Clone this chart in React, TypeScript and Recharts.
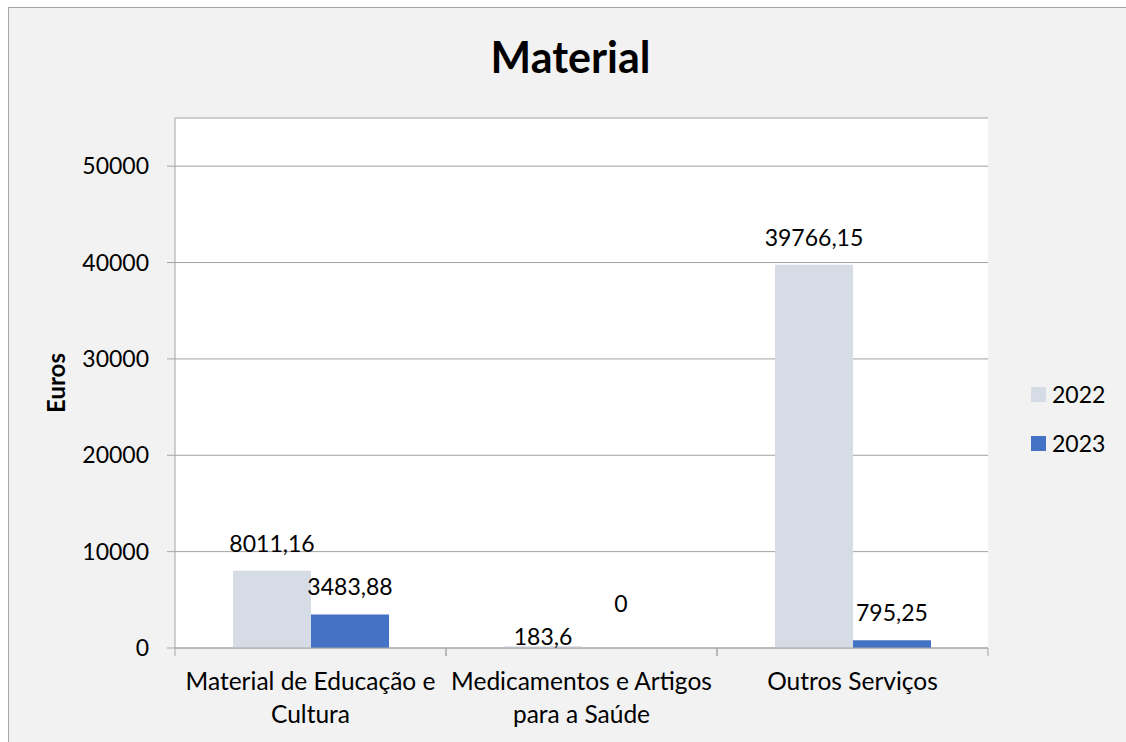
import React from "react";
import {
  BarChart, Bar, XAxis, YAxis, CartesianGrid, LabelList, Legend,
} from "recharts";

// Values (Euros)
const categories = [
  "Material de Educação e Cultura",
  "Medicamentos e Artigos para a Saúde",
  "Outros Serviços",
];
const categoryLines = [
  ["Material de Educação e", "Cultura"],
  ["Medicamentos e Artigos", "para a Saúde"],
  ["Outros Serviços"],
];
const values2022 = [8011.16, 183.6, 39766.15];
const values2023 = [3483.88, 0, 795.25];
const yTicks = [0, 10000, 20000, 30000, 40000, 50000];

// the source chart had two data labels dragged by hand (px, + = down)
const nudge2022 = [0, 18, 0];
const nudge2023 = [0, -17, 0];

const FONT = "Lato, 'Open Sans', sans-serif";
const AXIS_GRAY = "#a6a6a6";
const C2022 = "#d6dce5";
const C2023 = "#4472c4";

const W = 1117;
const H = 734;
const MARGIN = { top: 110, right: 138, left: 0, bottom: 0 };
const Y_AXIS_W = 166;
const BAND = (W - Y_AXIS_W - MARGIN.right) / categories.length;

const data = categories.map((c, i) => ({
  name: c,
  y2022: values2022[i],
  y2023: values2023[i],
}));

const fmt = (v: number) => String(v).replace(".", ",");

function makeLabel(values: number[], nudge: number[]) {
  return (p: any) => {
    const i = Number(p.index);
    const x = Number(p.x) + Number(p.width) / 2;
    // zero-height bars can report y at the top edge of the rect, use y+height
    const top = Number(p.y) + Math.min(0, Number(p.height) || 0);
    const y = top - 19 + (nudge[i] ?? 0);
    return (
      <text x={x} y={y} textAnchor="middle" fontSize={23} fontFamily={FONT} fill="#000">
        {fmt(values[i])}
      </text>
    );
  };
}

function CategoryTick(props: any) {
  const { x, y, index } = props;
  const lines = categoryLines[index] ?? [String(props.payload?.value)];
  return (
    <g>
      <line x1={x - BAND / 2} x2={x - BAND / 2} y1={y} y2={y + 8} stroke={AXIS_GRAY} />
      <line x1={x + BAND / 2} x2={x + BAND / 2} y1={y} y2={y + 8} stroke={AXIS_GRAY} />
      <text textAnchor="middle" fontSize={24.5} fontFamily={FONT} fill="#000">
        {lines.map((l, i) => (
          <tspan key={i} x={x} y={y + 42 + i * 33}>{l}</tspan>
        ))}
      </text>
    </g>
  );
}

function EurosLabel(props: any) {
  const vb = props.viewBox || { x: 0, y: MARGIN.top, width: Y_AXIS_W, height: 530 };
  const cx = vb.x + 46;
  const cy = vb.y + vb.height / 2;
  return (
    <text
      x={cx} y={cy} transform={`rotate(-90 ${cx} ${cy})`}
      textAnchor="middle" dominantBaseline="central"
      fontSize={24} fontWeight={700} fontFamily={FONT} fill="#000"
    >
      Euros
    </text>
  );
}

function LegendBox(props: any) {
  const items = props.payload || [];
  return (
    <div style={{ fontFamily: FONT, fontSize: 23, color: "#000" }}>
      {items.map((it: any) => (
        <div key={it.value} style={{ height: 49, display: "flex", alignItems: "center" }}>
          <span style={{ width: 15, height: 15, background: it.color, marginRight: 6, display: "inline-block" }} />
          <span style={{ lineHeight: "23px" }}>{it.value}</span>
        </div>
      ))}
    </div>
  );
}

export default function App() {
  return (
    <div
      style={{
        position: "absolute", left: 8, top: 7, width: W + 1, height: H + 1,
        boxSizing: "border-box", background: "#f2f2f2",
        borderLeft: `1px solid ${AXIS_GRAY}`, borderTop: `1px solid ${AXIS_GRAY}`,
      }}
    >
      <BarChart
        width={W}
        height={H}
        data={data}
        margin={MARGIN}
        barGap={0}
        barCategoryGap={58}
      >
        <text x={561.5} y={65} textAnchor="middle" fontSize={43} fontWeight={700} fontFamily={FONT} fill="#000">
          Material
        </text>
        <CartesianGrid vertical={false} stroke="#a0a0a0" fill="#ffffff" fillOpacity={1} />
        <XAxis
          dataKey="name"
          height={94}
          interval={0}
          tickSize={0}
          tickMargin={0}
          tickLine={false}
          axisLine={{ stroke: AXIS_GRAY }}
          tick={<CategoryTick />}
        />
        <YAxis
          width={Y_AXIS_W}
          domain={[0, 55000]}
          ticks={yTicks}
          interval={0}
          tickSize={8}
          tickMargin={18}
          axisLine={{ stroke: AXIS_GRAY }}
          tickLine={{ stroke: AXIS_GRAY }}
          tick={{ fill: "#000", fontSize: 23, fontFamily: FONT }}
          label={<EurosLabel />}
        />
        <Legend
          layout="vertical"
          align="center"
          verticalAlign="middle"
          wrapperStyle={{ left: 1022, top: 362, width: 95 }}
          content={<LegendBox />}
        />
        <Bar dataKey="y2022" name="2022" fill={C2022} isAnimationActive={false}>
          <LabelList dataKey="y2022" content={makeLabel(values2022, nudge2022)} />
        </Bar>
        <Bar dataKey="y2023" name="2023" fill={C2023} minPointSize={0.01} isAnimationActive={false}>
          <LabelList dataKey="y2023" content={makeLabel(values2023, nudge2023)} />
        </Bar>
      </BarChart>
    </div>
  );
}
